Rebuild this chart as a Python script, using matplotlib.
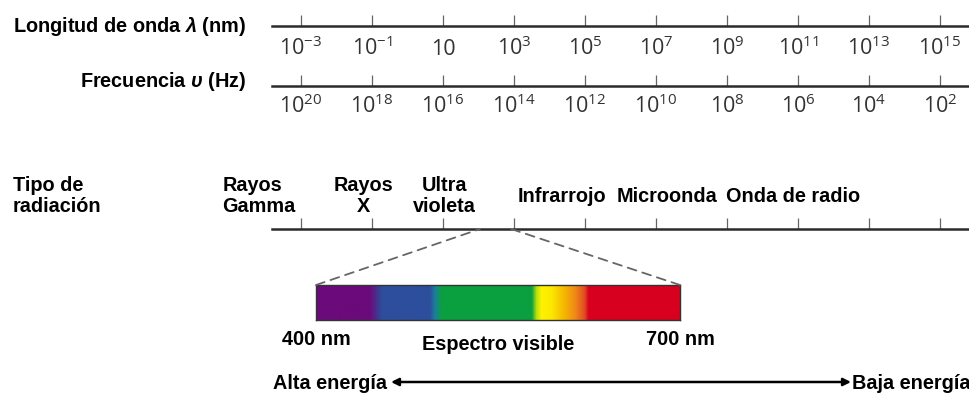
import numpy as np
import matplotlib
matplotlib.use("Agg")
import matplotlib.pyplot as plt
import matplotlib.transforms as mtransforms
from matplotlib.colors import LinearSegmentedColormap
from matplotlib.patches import ConnectionPatch, FancyArrowPatch

# ---------------- data ----------------
wavelength_exp = [-3, -1, 1, 3, 5, 7, 9, 11, 13, 15]          # log10(lambda / nm)
frequency_exp = [20, 18, 16, 14, 12, 10, 8, 6, 4, 2]           # log10(nu / Hz)
radiation_types = ["Rayos\nGamma", "Rayos\nX", "Ultra\nvioleta",
                   "Infrarrojo", "Microonda", "Onda de radio"]
radiation_center_exp = [-4.18, -1.24, 1.03, 4.34, 7.31, 10.86]  # label centres on the wavelength scale
visible_nm = [400, 700]
visible_zoom_exp = [2.04, 2.92]                                  # where the zoom lines meet the axis
spectrum_pos = [0, 0.148, 0.181, 0.313, 0.327, 0.346, 0.593, 0.606,
                0.620, 0.648, 0.684, 0.712, 0.739, 0.749, 1]
spectrum_colors = ["#6b0a7a", "#6b0a7a", "#2d4e9c", "#2d4e9c", "#1c7f9c",
                   "#0aa040", "#0aa040", "#b5e010", "#fff200", "#fbe800",
                   "#f5b400", "#ef8a18", "#e04a22", "#d8001f", "#d8001f"]
LOG_NU_LAMBDA = 17   # log10(nu) = 17 - log10(lambda) as drawn in the chart

# ---------------- layout ----------------
W, H = 970, 394
plt.rcParams.update({
    'font.family': ['Liberation Sans', 'DejaVu Sans'],
    'mathtext.fontset': 'custom',
    'mathtext.rm': 'Liberation Sans:bold',
    'mathtext.it': 'Liberation Sans:bold:italic',
    'mathtext.bf': 'Liberation Sans:bold',
})
fig = plt.figure(figsize=(W / 100, H / 100), dpi=100)


def fx(px):
    return px / W


def fy(py):
    return 1 - py / H


E0_PX, PX_PER_DEC = 301, 35.5
LINE_X0, LINE_X1 = 272, 970


def px2exp(px):
    return wavelength_exp[0] + (px - E0_PX) / PX_PER_DEC


wl_lim = (px2exp(LINE_X0), px2exp(LINE_X1))
fr_lim = (LOG_NU_LAMBDA - wl_lim[0], LOG_NU_LAMBDA - wl_lim[1])

BOLD = dict(fontsize=14.3, fontweight='bold', color='black')


def pow_label(e):
    return "10" if e == 1 else r"$\mathregular{10^{%d}}$" % e


def scale_axis(py, xlim, ticks, labels=None, label_dy=28):
    ax = fig.add_axes([fx(LINE_X0), fy(py), fx(LINE_X1) - fx(LINE_X0), 0.05])
    ax.set_xlim(*xlim)
    ax.set_ylim(0, 1)
    ax.patch.set_visible(False)
    for s in ('top', 'left', 'right'):
        ax.spines[s].set_visible(False)
    ax.spines['bottom'].set_linewidth(1.8)
    ax.spines['bottom'].set_color('#2b2b2b')
    ax.set_yticks([])
    ax.set_xticks(ticks)
    ax.set_xticklabels([])
    ax.tick_params(axis='x', direction='in', length=8, width=0.9, color='#666666')
    if labels:
        tr = mtransforms.offset_copy(ax.get_xaxis_transform(), fig=fig,
                                     y=-label_dy, units='dots')
        for t, lab in zip(ticks, labels):
            ax.text(t, 0, lab, transform=tr, ha='center', va='baseline',
                    fontsize=15.5, color='#333333', family='Open Sans',
                    clip_on=False)
    return ax


ax_wl = scale_axis(26, wl_lim, wavelength_exp, [pow_label(e) for e in wavelength_exp], 29)
ax_fr = scale_axis(86, fr_lim, frequency_exp, [pow_label(e) for e in frequency_exp], 27)
ax_rad = scale_axis(229, wl_lim, wavelength_exp)

fig.text(fx(246), fy(32), r"Longitud de onda $\lambda$ (nm)", ha='right', va='baseline', **BOLD)
fig.text(fx(246), fy(87), r"Frecuencia $\upsilon$ (Hz)", ha='right', va='baseline', **BOLD)
fig.text(fx(13), fy(196), "Tipo de\nradiación", ha='left', va='center',
         linespacing=1.15, **BOLD)

tr_rad = mtransforms.offset_copy(ax_rad.get_xaxis_transform(), fig=fig, y=33, units='dots')
for name, e in zip(radiation_types, radiation_center_exp):
    ax_rad.text(e, 0, name, transform=tr_rad, ha='center', va='center',
                multialignment='left' if 'Gamma' in name else 'center',
                linespacing=1.15, clip_on=False, **BOLD)

# ---------------- visible spectrum ----------------
ax_sp = fig.add_axes([fx(316), fy(320), fx(680) - fx(316), (320 - 285) / H])
cmap = LinearSegmentedColormap.from_list("vis", list(zip(spectrum_pos, spectrum_colors)), N=1024)
grad = np.linspace(0, 1, 1024).reshape(1, -1)
ax_sp.imshow(grad, cmap=cmap, aspect='auto', extent=[visible_nm[0], visible_nm[1], 0, 1],
             interpolation='bilinear')
ax_sp.set_xlim(*visible_nm)
ax_sp.set_ylim(0, 1)
ax_sp.set_xticks([])
ax_sp.set_yticks([])
for s in ax_sp.spines.values():
    s.set_color('#333333')
    s.set_linewidth(1.0)

for xa, xb in zip(visible_nm, visible_zoom_exp):
    con = ConnectionPatch(xyA=(xa, 1), coordsA=ax_sp.transData,
                          xyB=(xb, 0), coordsB=ax_rad.transData,
                          linestyle=(0, (5, 3.5)), color='#666666', linewidth=1.3)
    fig.add_artist(con)

tr_sp1 = mtransforms.offset_copy(ax_sp.get_xaxis_transform(), fig=fig, y=-25, units='dots')
tr_sp2 = mtransforms.offset_copy(ax_sp.get_xaxis_transform(), fig=fig, y=-30, units='dots')
ax_sp.text(visible_nm[0], 0, "400 nm", transform=tr_sp1, ha='center', va='baseline',
           clip_on=False, **BOLD)
ax_sp.text(visible_nm[1], 0, "700 nm", transform=tr_sp1, ha='center', va='baseline',
           clip_on=False, **BOLD)
ax_sp.text(np.mean(visible_nm), 0, "Espectro visible", transform=tr_sp2, ha='center',
           va='baseline', clip_on=False, **BOLD)

# ---------------- energy arrow ----------------
fig.text(fx(387), fy(389), "Alta energía", ha='right', va='baseline', **BOLD)
fig.text(fx(852), fy(389), "Baja energía", ha='left', va='baseline', **BOLD)
fig.add_artist(FancyArrowPatch(
    (fx(391), fy(382)), (fx(851), fy(382)), transform=fig.transFigure,
    arrowstyle='<|-|>', mutation_scale=11, linewidth=1.8, color='black',
    shrinkA=0, shrinkB=0))

fig.savefig("out.png", dpi=100)
